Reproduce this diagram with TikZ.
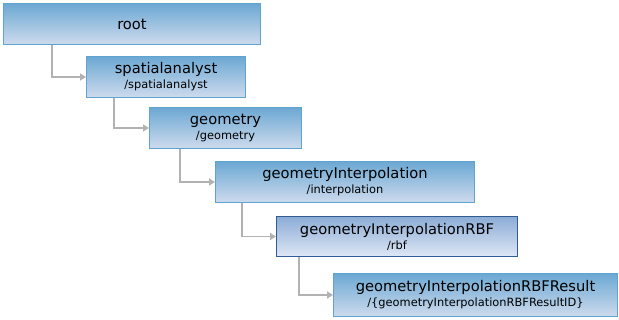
\documentclass[tikz,border=0pt]{standalone}
\usepackage{fontspec}
\setmainfont{DejaVu Sans}
\usepackage{tikz}
\usetikzlibrary{arrows.meta,positioning}

\definecolor{boxtop}{RGB}{108,168,211}
\definecolor{boxbot}{RGB}{206,219,237}
\definecolor{boxline}{RGB}{95,163,208}
\definecolor{seltop}{RGB}{140,172,214}
\definecolor{selbot}{RGB}{222,231,245}
\definecolor{selline}{RGB}{50,92,145}
\definecolor{linkgray}{RGB}{178,178,178}
\newcommand{\subfnt}{\fontsize{11.4}{15}\selectfont}

\begin{document}
\begin{tikzpicture}[
    x=1pt, y=-1pt,
    resbox/.style={draw=boxline, line width=1pt, top color=boxtop, bottom color=boxbot,
        anchor=north west, inner sep=0pt, align=center,
        font=\fontsize{14.7}{15}\selectfont},
    selbox/.style={resbox, draw=selline, top color=seltop, bottom color=selbot},
    link/.style={draw=linkgray, line width=1.6pt, -{Triangle[length=6pt,width=7pt]}}
]
\useasboundingbox (0,0) rectangle (619,320);

\node[resbox, minimum width=257pt, minimum height=41pt] (root) at (3,3) {root};
\node[resbox, minimum width=159pt, minimum height=41pt] (spatial) at (86,56)
    {spatialanalyst\\{\subfnt /spatialanalyst}};
\node[resbox, minimum width=152pt, minimum height=41pt] (geom) at (149,107)
    {geometry\\{\subfnt /geometry}};
\node[resbox, minimum width=259pt, minimum height=41pt] (interp) at (215,161)
    {geometryInterpolation\\{\subfnt /interpolation}};
\node[selbox, minimum width=241pt, minimum height=40pt] (rbf) at (276,216)
    {geometryInterpolationRBF\\{\subfnt /rbf}};
\node[resbox, minimum width=284pt, minimum height=43pt] (result) at (333,273)
    {geometryInterpolationRBFResult\\{\subfnt /\{geometryInterpolationRBFResultID\}}};

\draw[link] ([xshift=49pt]root.south west) |- (spatial.west);
\draw[link] ([xshift=28pt]spatial.south west) |- (geom.west);
\draw[link] ([xshift=31pt]geom.south west) |- (interp.west);
\draw[link] ([xshift=27pt]interp.south west) |- (rbf.west);
\draw[link] ([xshift=23pt]rbf.south west) |- (result.west);
\end{tikzpicture}
\end{document}
